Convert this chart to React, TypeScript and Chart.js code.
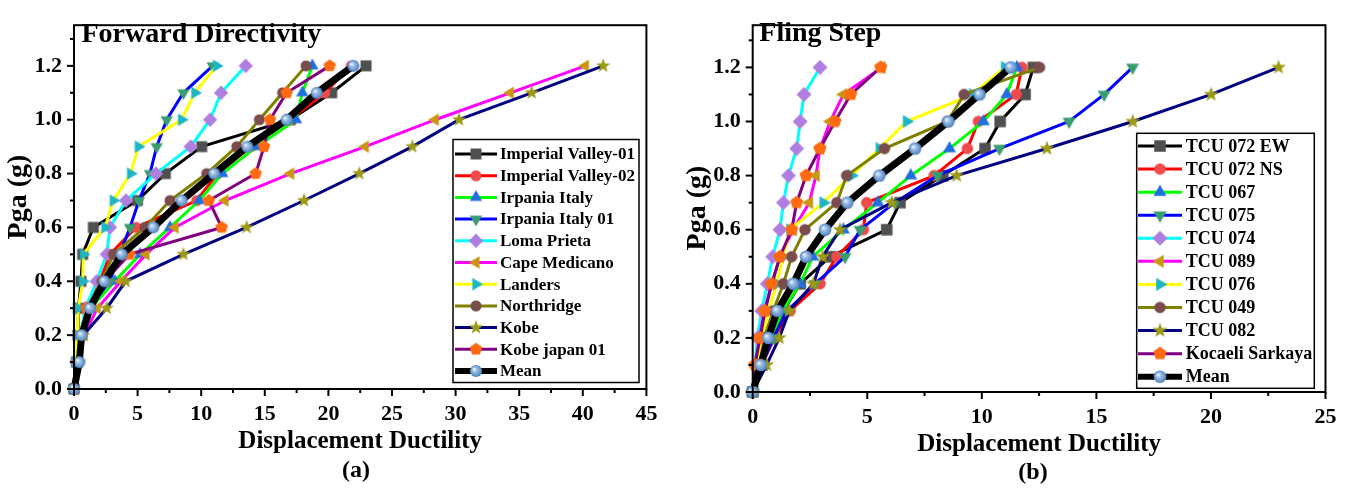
import React, { useEffect, useRef } from 'react';
import { Chart, registerables } from 'chart.js';

Chart.register(...registerables);

// ---------------- DATA ----------------
const PGA_LEVELS = [0, 0.1, 0.2, 0.3, 0.4, 0.5, 0.6, 0.7, 0.8, 0.9, 1.0, 1.1, 1.2];

// Panel (a) Forward Directivity — displacement ductility at each PGA level
const FD_NAMES = ['Imperial Valley-01', 'Imperial Valley-02', 'Irpania Italy', 'Irpania Italy 01', 'Loma Prieta', 'Cape Medicano', 'Landers', 'Northridge', 'Kobe', 'Kobe japan 01', 'Mean'];
const FD_IMPERIAL_VALLEY_01 = [0, 0.2, 0.3, 0.35, 0.55, 0.68, 1.52, 4.98, 7.18, 10.04, 17.0, 20.26, 22.96];
const FD_IMPERIAL_VALLEY_02 = [0, 0.3, 0.6, 1.1, 2.04, 2.83, 4.87, 9.64, 11.3, 13.9, 17.0, 19.7, 21.8];
const FD_IRPANIA_ITALY = [0, 0.3, 0.6, 1.3, 3.2, 5.2, 7.55, 9.85, 11.66, 14.36, 17.45, 17.95, 18.74];
const FD_IRPANIA_ITALY_01 = [0, 0.3, 0.6, 1.2, 2.8, 3.6, 4.4, 5.11, 5.97, 6.5, 7.29, 8.6, 10.9];
const FD_LOMA_PRIETA = [0, 0.2, 0.5, 0.9, 1.78, 2.57, 2.83, 4.09, 6.45, 9.17, 10.7, 11.56, 13.5];
const FD_CAPE_MEDICANO = [0, 0.3, 0.8, 1.83, 3.69, 5.66, 7.94, 11.87, 17.03, 22.9, 28.4, 34.3, 40.2];
const FD_LANDERS = [0, 0.1, 0.26, 0.34, 0.68, 0.73, 2.44, 3.09, 4.45, 5.06, 8.46, 9.5, 11.2];
const FD_NORTHRIDGE = [0, 0.3, 0.6, 1.0, 2.2, 3.09, 5.58, 7.55, 10.43, 12.79, 14.57, 16.4, 18.24];
const FD_KOBE = [0, 0.4, 0.73, 2.57, 4.06, 8.6, 13.57, 18.08, 22.43, 26.6, 30.27, 35.98, 41.6];
const FD_KOBE_JAPAN_01 = [0, 0.3, 0.6, 1.0, 2.4, 4.35, 11.61, 10.6, 14.28, 14.94, 15.4, 16.72, 20.1];
const FD_MEAN = [0, 0.42, 0.6, 1.26, 2.39, 3.75, 6.24, 8.46, 11.03, 13.63, 16.72, 19.08, 21.96];
const FD_X_TICKS = [0, 5, 10, 15, 20, 25, 30, 35, 40, 45];
const FD_Y_TICKS = [0, 0.2, 0.4, 0.6, 0.8, 1.0, 1.2];

// Panel (b) Fling Step
const FS_NAMES = ['TCU 072 EW', 'TCU 072 NS', 'TCU 067', 'TCU 075', 'TCU 074', 'TCU 089', 'TCU 076', 'TCU 049', 'TCU 082', 'Kocaeli Sarkaya', 'Mean'];
const FS_TCU072EW = [0, 0.4, 0.8, 1.34, 2.07, 3.38, 5.85, 6.43, 8.3, 10.14, 10.8, 11.89, 12.25];
const FS_TCU072NS = [0, 0.4, 0.95, 1.63, 2.94, 3.67, 4.83, 4.98, 7.92, 9.37, 9.85, 11.5, 11.75];
const FS_TCU067 = [0, 0.35, 0.8, 1.3, 2.07, 2.62, 3.96, 5.46, 6.9, 8.59, 10.07, 11.09, 11.53];
const FS_TCU075 = [0, 0.4, 0.9, 1.5, 2.72, 4.03, 4.69, 6.2, 8.06, 10.77, 13.81, 15.34, 16.58];
const FS_TCU074 = [0, 0.1, 0.2, 0.39, 0.64, 0.87, 1.19, 1.34, 1.56, 1.92, 2.07, 2.24, 2.94];
const FS_TCU089 = [0, 0.1, 0.3, 0.5, 0.83, 1.19, 1.76, 2.47, 2.76, 2.94, 3.38, 3.96, 5.63];
const FS_TCU076 = [0, 0.2, 0.4, 0.7, 1.05, 1.32, 1.63, 3.08, 4.32, 5.53, 6.72, 9.6, 11.0];
const FS_TCU049 = [0, 0.3, 0.5, 0.9, 1.34, 1.7, 2.28, 3.67, 4.1, 5.75, 8.5, 9.23, 12.52];
const FS_TCU082 = [0, 0.61, 1.16, 1.6, 2.65, 3.05, 3.81, 6.07, 8.9, 12.84, 16.59, 20.01, 22.95];
const FS_KOCAELI_SARKAYA = [0, 0.1, 0.32, 0.54, 0.83, 1.19, 1.7, 1.92, 2.33, 2.94, 3.59, 4.28, 5.59];
const FS_MEAN = [0, 0.35, 0.68, 1.07, 1.77, 2.33, 3.16, 4.13, 5.53, 7.09, 8.54, 9.9, 11.26];
const FS_X_TICKS = [0, 5, 10, 15, 20, 25];
const FS_Y_TICKS = [0, 0.2, 0.4, 0.6, 0.8, 1.0, 1.2];

// ---------------- STYLES ----------------
const LINE_COLORS = ['#000000', '#ff0000', '#00ff00', '#0000ff', '#00ffff', '#ff00ff', '#ffff00', '#808000', '#000080', '#800080', '#000000'];
const MARKER_COLORS = ['#505050', '#f24a4a', '#1f6fe0', '#3a9d70', '#b07ee0', '#c99612', '#1cb6c4', '#7a4c4c', '#9c9a14', '#ff6a10', '#7aa8d8'];
const MARKER_SHAPES = ['square', 'circle', 'up', 'down', 'diamond', 'left', 'right', 'circle', 'star', 'pentagon', 'mean'];
const FONT = '"Liberation Serif", "Times New Roman", serif';

function makeMarker(shape: string, fill: string, k: number): HTMLCanvasElement {
  const s = 20;
  const c = document.createElement('canvas');
  c.width = s; c.height = s;
  const ctx = c.getContext('2d')!;
  const cx = s / 2, cy = s / 2;
  const poly = (n: number, R: number, start: number, inner?: number) => {
    ctx.beginPath();
    const cnt = inner ? n * 2 : n;
    for (let i = 0; i < cnt; i++) {
      const ang = start + (i * 2 * Math.PI) / cnt;
      const rr = inner && i % 2 === 1 ? inner : R;
      const px = cx + rr * Math.cos(ang), py = cy + rr * Math.sin(ang);
      if (i === 0) ctx.moveTo(px, py); else ctx.lineTo(px, py);
    }
    ctx.closePath();
  };
  ctx.fillStyle = fill;
  const d = Math.PI / 180;
  switch (shape) {
    case 'square': ctx.beginPath(); ctx.rect(cx - 5 * k, cy - 5 * k, 10 * k, 10 * k); break;
    case 'circle': ctx.beginPath(); ctx.arc(cx, cy, 5 * k, 0, Math.PI * 2); break;
    case 'up': poly(3, 6.5 * k, -90 * d); break;
    case 'down': poly(3, 6.5 * k, 90 * d); break;
    case 'left': poly(3, 6.5 * k, 180 * d); break;
    case 'right': poly(3, 6.5 * k, 0); break;
    case 'diamond': poly(4, 6.5 * k, -90 * d); break;
    case 'pentagon': poly(5, 6 * k, -90 * d); break;
    case 'star': poly(5, 6.8 * k, -90 * d, 2.8 * k); break;
    case 'mean': {
      const g = ctx.createRadialGradient(cx - 1.8 * k, cy - 1.8 * k, 0.3, cx, cy, 5.5 * k);
      g.addColorStop(0, '#f2f8ff');
      g.addColorStop(0.35, '#9cc0e8');
      g.addColorStop(1, '#4f80b8');
      ctx.fillStyle = g;
      ctx.beginPath(); ctx.arc(cx, cy, 5.5 * k, 0, Math.PI * 2);
      break;
    }
  }
  ctx.fill();
  return c;
}

type Spec = {
  names: string[];
  series: number[][];
  xMax: number; xTicks: number[]; xMinorStep: number;
  yMax: number; yTicks: number[];
  width: number; height: number;
  area: { left: number; right: number; top: number; bottom: number };
  title: string; titleX: number; titleY: number;
  xTitleY: number; caption: string; captionX: number; captionY: number;
  yTitleX: number; yTitleY: number;
  legend: { left: number; top: number; right: number; bottom: number; row0: number; step: number; x0: number; x1: number; textX: number; font: number };
  markerScale: number;
};

function buildConfig(spec: Spec): any {
  const n = spec.series.length;
  const markers = MARKER_SHAPES.map((s, i) => makeMarker(s, MARKER_COLORS[i], spec.markerScale));
  const tickFont = { family: FONT, size: 22, weight: 'bold' as const };

  const decor = {
    id: 'decor',
    afterDatasetsDraw(chart: any) {
      const ctx = chart.ctx as CanvasRenderingContext2D;
      const a = chart.chartArea;
      const xs = chart.scales.x, ys = chart.scales.y;
      ctx.save();
      ctx.strokeStyle = '#000';
      ctx.lineWidth = 2;
      ctx.strokeRect(a.left, a.top, a.right - a.left, a.bottom - a.top);
      // x ticks (major + minor), outward
      const nx = Math.round(spec.xMax / spec.xMinorStep);
      for (let k = 0; k <= nx; k++) {
        const px = xs.getPixelForValue(k * spec.xMinorStep);
        const len = k % 2 === 0 ? 7 : 4;
        ctx.beginPath(); ctx.moveTo(px, a.bottom); ctx.lineTo(px, a.bottom + len); ctx.stroke();
      }
      const ny = Math.floor(spec.yMax / 0.1 + 1e-6);
      for (let k = 0; k <= ny; k++) {
        const py = ys.getPixelForValue(k * 0.1);
        const len = k % 2 === 0 ? 7 : 4;
        ctx.beginPath(); ctx.moveTo(a.left, py); ctx.lineTo(a.left - len, py); ctx.stroke();
      }
      // texts
      ctx.fillStyle = '#000';
      ctx.textBaseline = 'alphabetic';
      ctx.textAlign = 'left';
      ctx.font = `bold 28px ${FONT}`;
      ctx.fillText(spec.title, spec.titleX, spec.titleY);
      ctx.textAlign = 'center';
      ctx.font = `bold 25px ${FONT}`;
      ctx.fillText('Displacement Ductility', (a.left + a.right) / 2, spec.xTitleY);
      ctx.font = `bold 24px ${FONT}`;
      ctx.fillText(spec.caption, spec.captionX, spec.captionY);
      ctx.save();
      ctx.translate(spec.yTitleX, spec.yTitleY);
      ctx.rotate(-Math.PI / 2);
      ctx.font = `bold 28px ${FONT}`;
      ctx.fillText('Pga (g)', 0, 0);
      ctx.restore();
      // legend
      const L = spec.legend;
      ctx.fillStyle = '#fff';
      ctx.fillRect(L.left, L.top, L.right - L.left, L.bottom - L.top);
      ctx.lineWidth = 1.5;
      ctx.strokeStyle = '#000';
      ctx.strokeRect(L.left, L.top, L.right - L.left, L.bottom - L.top);
      ctx.font = `bold ${L.font}px ${FONT}`;
      ctx.textAlign = 'left';
      ctx.textBaseline = 'middle';
      for (let i = 0; i < n; i++) {
        const y = L.row0 + i * L.step;
        ctx.strokeStyle = LINE_COLORS[i];
        ctx.lineWidth = i === n - 1 ? 6 : 3;
        ctx.beginPath(); ctx.moveTo(L.x0, y); ctx.lineTo(L.x1, y); ctx.stroke();
        const m = markers[i];
        ctx.drawImage(m, (L.x0 + L.x1) / 2 - m.width / 2, y - m.height / 2);
        ctx.fillStyle = '#000';
        ctx.fillText(spec.names[i], L.textX, y + 1);
      }
      ctx.restore();
    },
  };

  return {
    type: 'line',
    data: {
      datasets: spec.series.map((xsArr, i) => ({
        label: spec.names[i],
        data: xsArr.map((x, j) => ({ x, y: PGA_LEVELS[j] })),
        borderColor: LINE_COLORS[i],
        backgroundColor: MARKER_COLORS[i],
        borderWidth: i === n - 1 ? 7 : 3,
        pointStyle: markers[i],
        pointRadius: 5,
        pointHoverRadius: 5,
        tension: 0,
        fill: false,
        order: n - i,
        clip: 8,
      })),
    },
    options: {
      responsive: false,
      animation: false,
      devicePixelRatio: 1,
      events: [],
      layout: { padding: { left: 0, right: spec.width - spec.area.right, top: spec.area.top, bottom: 0 } },
      plugins: { legend: { display: false }, tooltip: { enabled: false }, title: { display: false } },
      scales: {
        x: {
          type: 'linear', min: 0, max: spec.xMax,
          grid: { display: false, drawTicks: false },
          border: { display: false },
          ticks: { font: tickFont, color: '#000', padding: 12, maxRotation: 0, autoSkip: false, callback: (v: any) => String(v) },
          afterBuildTicks: (s: any) => { s.ticks = spec.xTicks.map((v) => ({ value: v })); },
          afterFit: (s: any) => { s.height = spec.height - spec.area.bottom; },
        },
        y: {
          type: 'linear', min: 0, max: spec.yMax,
          grid: { display: false, drawTicks: false },
          border: { display: false },
          ticks: { font: tickFont, color: '#000', padding: 12, autoSkip: false, callback: (v: any) => Number(v).toFixed(1) },
          afterBuildTicks: (s: any) => { s.ticks = spec.yTicks.map((v) => ({ value: v })); },
          afterFit: (s: any) => { s.width = spec.area.left; },
        },
      },
    },
    plugins: [decor],
  };
}

const SPEC_A: Spec = {
  names: FD_NAMES,
  series: [FD_IMPERIAL_VALLEY_01, FD_IMPERIAL_VALLEY_02, FD_IRPANIA_ITALY, FD_IRPANIA_ITALY_01, FD_LOMA_PRIETA, FD_CAPE_MEDICANO, FD_LANDERS, FD_NORTHRIDGE, FD_KOBE, FD_KOBE_JAPAN_01, FD_MEAN],
  xMax: 45, xTicks: FD_X_TICKS, xMinorStep: 2.5,
  yMax: 1.351, yTicks: FD_Y_TICKS,
  width: 676, height: 489,
  area: { left: 74, right: 646.4, top: 14, bottom: 389 },
  title: 'Forward Directivity', titleX: 81.5, titleY: 41.5,
  xTitleY: 448, caption: '(a)', captionX: 356, captionY: 477,
  yTitleX: 26, yTitleY: 197,
  legend: { left: 453, top: 139.5, right: 639, bottom: 382.5, row0: 154, step: 21.7, x0: 455, x1: 497, textX: 500, font: 17 },
  markerScale: 1.1,
};

const SPEC_B: Spec = {
  names: FS_NAMES,
  series: [FS_TCU072EW, FS_TCU072NS, FS_TCU067, FS_TCU075, FS_TCU074, FS_TCU089, FS_TCU076, FS_TCU049, FS_TCU082, FS_KOCAELI_SARKAYA, FS_MEAN],
  xMax: 25, xTicks: FS_X_TICKS, xMinorStep: 2.5,
  yMax: 1.356, yTicks: FS_Y_TICKS,
  width: 677, height: 489,
  area: { left: 76.7, right: 649.5, top: 16.7, bottom: 392 },
  title: 'Fling Step', titleX: 83.3, titleY: 40.7,
  xTitleY: 451, caption: '(b)', captionX: 357, captionY: 479,
  yTitleX: 29, yTitleY: 208,
  legend: { left: 460.7, top: 133.3, right: 638.3, bottom: 388.3, row0: 146, step: 23.07, x0: 462, x1: 506, textX: 509.7, font: 18 },
  markerScale: 1.15,
};

function Panel({ spec, left }: { spec: Spec; left: number }) {
  const ref = useRef<HTMLCanvasElement | null>(null);
  useEffect(() => {
    if (!ref.current) return;
    const chart = new Chart(ref.current, buildConfig(spec));
    return () => chart.destroy();
  }, [spec]);
  return (
    <canvas
      ref={ref}
      width={spec.width}
      height={spec.height}
      style={{ position: 'absolute', left, top: 0, width: spec.width, height: spec.height }}
    />
  );
}

export default function App() {
  return (
    <div style={{ position: 'fixed', left: 0, top: 0, width: 1353, height: 489, background: '#fff', overflow: 'hidden' }}>
      <Panel spec={SPEC_A} left={0} />
      <Panel spec={SPEC_B} left={676} />
    </div>
  );
}
